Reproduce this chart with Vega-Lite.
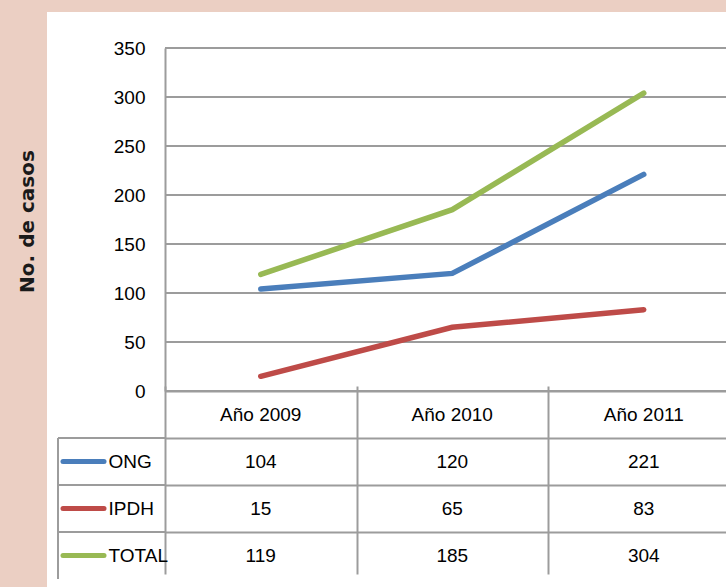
{
  "$schema": "https://vega.github.io/schema/vega-lite/v6.json",
  "background": "#EBCFC3",
  "padding": 0,
  "spacing": 0,
  "bounds": "flush",
  "config": {"view": {"stroke": null}, "font": "Liberation Sans"},
  "datasets": {
    "casos": [
      {"serie": "ONG", "anio": 2009, "casos": 104},
      {"serie": "ONG", "anio": 2010, "casos": 120},
      {"serie": "ONG", "anio": 2011, "casos": 221},
      {"serie": "IPDH", "anio": 2009, "casos": 15},
      {"serie": "IPDH", "anio": 2010, "casos": 65},
      {"serie": "IPDH", "anio": 2011, "casos": 83},
      {"serie": "TOTAL", "anio": 2009, "casos": 119},
      {"serie": "TOTAL", "anio": 2010, "casos": 185},
      {"serie": "TOTAL", "anio": 2011, "casos": 304}
    ],
    "encabezado": [
      {"anio": 2009, "texto": "Año 2009"},
      {"anio": 2010, "texto": "Año 2010"},
      {"anio": 2011, "texto": "Año 2011"}
    ],
    "ticks": [{"v": 0}, {"v": 50}, {"v": 100}, {"v": 150}, {"v": 200}, {"v": 250}, {"v": 300}, {"v": 350}]
  },
  "vconcat": [
    {
      "width": 561,
      "height": 343,
      "layer": [
        {
          "data": {"values": [{}]},
          "mark": {"type": "rect", "fill": "#EBCFC3"},
          "encoding": {
            "x": {"datum": 2007.6384, "type": "quantitative", "scale": {"domain": [2008.5, 2011.4295], "nice": false, "zero": false}, "axis": null},
            "x2": {"datum": 2011.4295},
            "y": {"datum": 397.96, "type": "quantitative", "scale": {"domain": [0, 350], "nice": false, "zero": false}},
            "y2": {"datum": -201.02}
          }
        },
        {
          "data": {"values": [{}]},
          "mark": {"type": "rect", "fill": "#FFFFFF"},
          "encoding": {
            "x": {"datum": 2007.8838, "type": "quantitative", "axis": null},
            "x2": {"datum": 2011.4295},
            "y": {"datum": 386.73, "type": "quantitative"},
            "y2": {"datum": -201.02}
          }
        },
        {
          "data": {"name": "ticks"},
          "mark": {"type": "rule", "color": "#9C9C9C", "strokeWidth": 2},
          "encoding": {
            "y": {"field": "v", "type": "quantitative"}
          }
        },
        {
          "data": {"name": "casos"},
          "mark": {"type": "line", "strokeWidth": 5.5, "strokeCap": "round"},
          "encoding": {
            "x": {"field": "anio", "type": "quantitative", "axis": null},
            "y": {
              "field": "casos",
              "type": "quantitative",
              "axis": {
                "title": "No. de casos",
                "values": [0, 50, 100, 150, 200, 250, 300, 350],
                "grid": false,
                "ticks": false,
                "tickSize": 0,
                "domain": true,
                "domainColor": "#9C9C9C",
                "domainWidth": 2,
                "labelFont": "Liberation Sans",
                "labelFontSize": 19,
                "labelColor": "#000000",
                "labelPadding": 20,
                "titleFont": "DejaVu Sans",
                "titleFontWeight": "bold",
                "titleFontSize": 20,
                "titleColor": "#1A1A1A",
                "titleAngle": -90,
                "titleX": -132,
                "titleY": 173,
                "titleAlign": "center",
                "titleBaseline": "alphabetic",
                "zindex": 1
              }
            },
            "color": {
              "field": "serie",
              "type": "nominal",
              "scale": {"domain": ["ONG", "IPDH", "TOTAL"], "range": ["#4A7EBB", "#BE4B48", "#98B954"]},
              "legend": null
            }
          }
        }
      ]
    },
    {
      "width": 561,
      "height": 183,
      "layer": [
        {
          "data": {"name": "casos"},
          "mark": {"type": "text", "font": "Liberation Sans", "fontSize": 19, "color": "#000000", "baseline": "middle", "align": "center"},
          "encoding": {
            "x": {
              "field": "anio",
              "type": "quantitative",
              "scale": {"domain": [2008.5, 2011.4295], "nice": false, "zero": false},
              "axis": {"values": [2008.5, 2009.5, 2010.5], "grid": true, "gridColor": "#9C9C9C", "gridWidth": 2, "labels": false, "ticks": false, "domain": false, "title": null}
            },
            "y": {
              "field": "serie",
              "type": "nominal",
              "scale": {"domain": ["hdr", "ONG", "IPDH", "TOTAL"], "range": [0, 188], "paddingInner": 0, "paddingOuter": 0},
              "axis": {
                "title": null,
                "domain": false,
                "ticks": false,
                "tickSize": 0,
                "grid": true,
                "gridColor": "#9C9C9C",
                "gridWidth": 2,
                "bandPosition": 0,
                "labelExpr": "datum.value == 'hdr' ? '' : datum.value",
                "labelAlign": "left",
                "labelBaseline": "middle",
                "labelPadding": 57,
                "labelFont": "Liberation Sans",
                "labelFontSize": 19,
                "labelColor": "#000000"
              }
            },
            "text": {"field": "casos", "type": "quantitative"}
          }
        },
        {
          "data": {"name": "encabezado"},
          "mark": {"type": "text", "font": "Liberation Sans", "fontSize": 19, "color": "#000000", "baseline": "middle", "align": "center"},
          "encoding": {
            "x": {"field": "anio", "type": "quantitative"},
            "y": {"datum": "hdr", "type": "nominal"},
            "text": {"field": "texto", "type": "nominal"}
          }
        },
        {
          "data": {"name": "casos"},
          "transform": [{"filter": "datum.anio == 2009"}],
          "mark": {"type": "rule", "color": "#9C9C9C", "strokeWidth": 2},
          "encoding": {
            "x": {"datum": 2007.9413, "type": "quantitative"},
            "x2": {"datum": 2008.5},
            "y": {"field": "serie", "type": "nominal", "bandPosition": 0}
          }
        },
        {
          "data": {"name": "casos"},
          "transform": [{"filter": "datum.anio == 2009"}],
          "mark": {"type": "rect", "fill": null, "stroke": "#9C9C9C", "strokeWidth": 2},
          "encoding": {
            "x": {"datum": 2007.9413, "type": "quantitative"},
            "x2": {"datum": 2007.9413},
            "y": {"field": "serie", "type": "nominal"}
          }
        },
        {
          "data": {"name": "casos"},
          "transform": [{"filter": "datum.anio == 2009"}],
          "mark": {"type": "rule", "strokeWidth": 5, "strokeCap": "round"},
          "encoding": {
            "x": {"datum": 2007.9674, "type": "quantitative"},
            "x2": {"datum": 2008.1815},
            "y": {"field": "serie", "type": "nominal"},
            "color": {
              "field": "serie",
              "type": "nominal",
              "scale": {"domain": ["ONG", "IPDH", "TOTAL"], "range": ["#4A7EBB", "#BE4B48", "#98B954"]},
              "legend": null
            }
          }
        }
      ]
    }
  ]
}
